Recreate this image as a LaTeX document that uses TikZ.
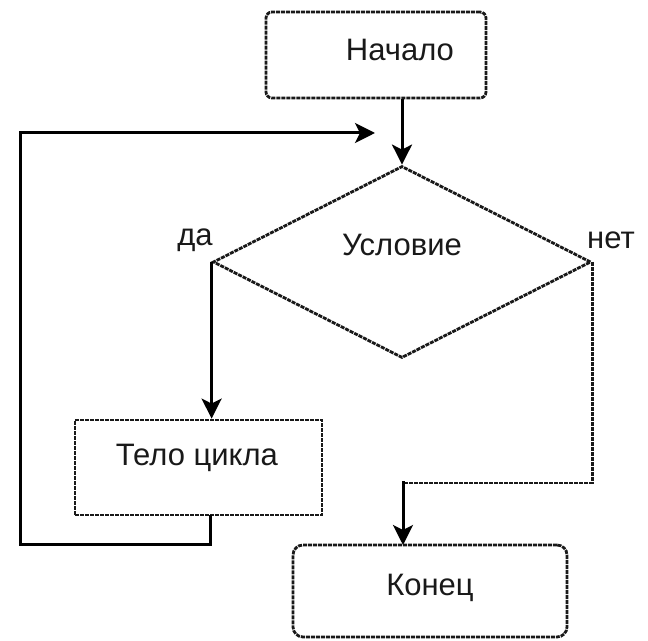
\documentclass[tikz,border=0pt]{standalone}
\usepackage{fontspec}
\setmainfont{Liberation Sans}
\usetikzlibrary{shapes.geometric,arrows.meta}
\begin{document}
\begin{tikzpicture}[x=1pt,y=1pt,
  shapeline/.style={draw=black!90,line width=2.8pt,dash pattern=on 4pt off 1pt},
  conn/.style={draw=black,line width=3pt},
  arr/.style={conn,-{Stealth[length=20pt,width=20pt,inset=5pt]}},
  lbl/.style={font=\fontsize{31}{36}\selectfont,inner sep=0pt,text=black!90}]
\useasboundingbox (0,0) rectangle (648,640);
% shapes
\node[shapeline,rounded corners=6pt,minimum width=220pt,minimum height=86pt,inner sep=0pt] (startbox) at (376,585) {};
\node[lbl] (starttext) at (400,590) {Начало};
\node[shapeline,diamond,minimum width=378pt,minimum height=192pt,inner sep=0pt] (cond) at (402,378) {};
\node[lbl] (condtext) at (402,395) {Условие};
\node[lbl] (yes) at (195,400) {да};
\node[lbl] (no) at (611,400) {нет};
\node[shapeline,rectangle,minimum width=247pt,minimum height=95pt,inner sep=0pt] (body) at (198.5,172.5) {};
\node[lbl] (bodytext) at (197,182) {Тело цикла};
\node[shapeline,rounded corners=10pt,minimum width=274pt,minimum height=92pt,inner sep=0pt] (endbox) at (430,49) {};
\node[lbl] (endtext) at (430,52) {Конец};
% coordinates
\coordinate (loopend) at (375,507);
\coordinate (bodyout) at (210,125);
\coordinate (rightturn) at (403,157);
\coordinate (endin) at (403,95);
% connectors
\draw[arr] (startbox.south -| cond.north) -- (cond.north);
\draw[arr] (cond.west) -- (cond.west |- body.north);
\draw[arr] (bodyout) -- (210,95) -- (20,95) -- (20,507) -- (loopend);
\draw[shapeline] (cond.east) -- (cond.east |- rightturn) -- (rightturn);
\draw[arr] ([yshift=1.5pt]rightturn) -- (endin);
\end{tikzpicture}
\end{document}
